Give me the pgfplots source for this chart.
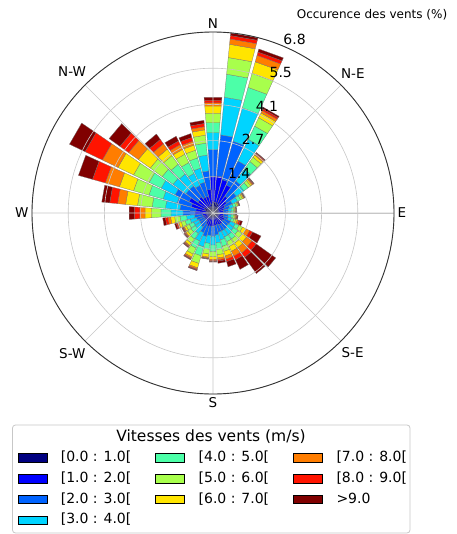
\documentclass[border=0pt]{standalone}
\usepackage{fontspec}
\setmainfont{DejaVu Sans}
\usepackage{pgfplots}
\usepackage{pgfplotstable}
\pgfplotsset{compat=1.18}
\usepgfplotslibrary{polar}

\definecolor{wc1}{rgb}{0,0,0.5}
\definecolor{wc2}{rgb}{0,0,1}
\definecolor{wc3}{rgb}{0,0.39,1}
\definecolor{wc4}{rgb}{0,0.83,1}
\definecolor{wc5}{rgb}{0.30,1,0.66}
\definecolor{wc6}{rgb}{0.66,1,0.30}
\definecolor{wc7}{rgb}{1,0.90,0}
\definecolor{wc8}{rgb}{1,0.49,0}
\definecolor{wc9}{rgb}{1,0.08,0}
\definecolor{wc10}{rgb}{0.5,0,0}

% wind direction (compass degrees) and frequency (%) per speed bin
\pgfplotstableread{
dir b1 b2 b3 b4 b5 b6 b7 b8 b9 b10
0   0.42 0.95 1.02 0.63 0.38 0.35 0.28 0.12 0.10 0.11
10  0.40 1.00 1.55 1.42 0.87 0.63 0.50 0.20 0.13 0.10
20  0.40 0.90 1.50 1.30 0.80 0.55 0.45 0.25 0.13 0.12
30  0.37 0.80 1.00 0.90 0.55 0.35 0.20 0.10 0.07 0.06
40  0.28 0.50 0.70 0.55 0.35 0.20 0.10 0.05 0.04 0.03
50  0.23 0.40 0.45 0.35 0.20 0.12 0.06 0.04 0.03 0.02
60  0.20 0.30 0.30 0.22 0.13 0.08 0.05 0.03 0.02 0.02
70  0.18 0.25 0.22 0.15 0.10 0.06 0.04 0.02 0.02 0.01
80  0.18 0.22 0.18 0.12 0.08 0.05 0.03 0.02 0.01 0.01
90  0.18 0.20 0.18 0.12 0.08 0.05 0.03 0.02 0.02 0.02
100 0.18 0.22 0.17 0.12 0.08 0.05 0.04 0.03 0.03 0.03
110 0.18 0.24 0.17 0.13 0.10 0.07 0.06 0.06 0.06 0.08
120 0.18 0.30 0.25 0.20 0.15 0.15 0.15 0.15 0.12 0.35
130 0.15 0.30 0.25 0.25 0.20 0.20 0.20 0.25 0.20 0.90
140 0.15 0.35 0.25 0.25 0.20 0.20 0.20 0.25 0.20 0.75
150 0.15 0.35 0.25 0.25 0.20 0.20 0.20 0.20 0.15 0.40
160 0.15 0.30 0.30 0.30 0.25 0.20 0.18 0.12 0.10 0.20
170 0.15 0.33 0.35 0.30 0.25 0.20 0.12 0.07 0.05 0.08
180 0.15 0.35 0.38 0.33 0.25 0.18 0.10 0.05 0.03 0.03
190 0.15 0.35 0.35 0.30 0.22 0.18 0.12 0.04 0.02 0.02
200 0.17 0.35 0.40 0.40 0.35 0.30 0.17 0.05 0.03 0.03
210 0.17 0.30 0.35 0.35 0.30 0.25 0.12 0.05 0.03 0.03
220 0.15 0.22 0.28 0.30 0.25 0.20 0.10 0.04 0.03 0.03
230 0.15 0.20 0.25 0.22 0.20 0.15 0.08 0.04 0.03 0.03
240 0.15 0.20 0.24 0.22 0.18 0.13 0.08 0.04 0.03 0.03
250 0.15 0.24 0.25 0.25 0.20 0.15 0.10 0.05 0.05 0.06
260 0.15 0.25 0.30 0.30 0.25 0.20 0.15 0.10 0.10 0.10
270 0.30 0.38 0.45 0.45 0.38 0.35 0.25 0.20 0.20 0.20
280 0.25 0.40 0.60 0.55 0.50 0.55 0.45 0.30 0.30 0.30
290 0.30 0.55 0.55 0.55 0.55 0.60 0.55 0.55 0.50 0.55
300 0.35 0.65 0.58 0.58 0.50 0.65 0.65 0.65 0.72 0.65
310 0.25 0.45 0.55 0.60 0.50 0.55 0.55 0.45 0.40 0.50
320 0.30 0.45 0.50 0.55 0.45 0.40 0.30 0.25 0.20 0.25
330 0.25 0.40 0.50 0.50 0.45 0.35 0.20 0.20 0.15 0.20
340 0.25 0.40 0.55 0.55 0.40 0.30 0.20 0.15 0.15 0.15
350 0.34 0.55 0.70 0.60 0.45 0.30 0.20 0.12 0.12 0.12
}\windtable

\begin{document}
\begin{tikzpicture}[x=1pt,y=1pt]
\path[use as bounding box] (0,0) rectangle (456,-534);
\begin{polaraxis}[
  at={(213pt,-213pt)}, anchor=center,
  scale only axis, width=362pt, height=362pt,
  xmin=0, xmax=360, ymin=0, ymax=6.8,
  clip=false,
  xtick={0,45,...,315},
  xticklabels={E,N-E,N,N-W,W,S-W,S,S-E},
  ytick={1.36,2.72,4.08,5.44,6.8},
  yticklabels={},
  grid=major,
  major grid style={black!22, line width=0.6pt},
  separate axis lines,
  x axis line style={black!80, line width=0.9pt},
  y axis line style={draw=none},
  major tick length=0pt,
  axis on top,
  xticklabel style={font=\fontsize{13.5}{16}\selectfont},
  legend columns=3,
  legend cell align=left,
  legend style={at={(-0.0406,-0.1525)}, anchor=north west, draw=none, fill=none,
    inner sep=0pt, row sep=3.8pt,
    nodes={inner sep=2pt, text height=10pt, text depth=3pt, font=\fontsize{14}{17}\selectfont},
    /tikz/every even column/.append style={column sep=22pt}},
  legend image code/.code={\draw[#1,draw=black,line width=0.6pt] (0pt,-4.2pt) rectangle (29pt,4.2pt); \path[draw=none,fill=none] (0pt,0pt) -- (41pt,0pt);},
]
\pgfplotsforeachungrouped \i in {0,...,35}{%
  \pgfplotstablegetelem{\i}{dir}\of\windtable
  \pgfmathsetmacro\aA{mod(450-\pgfplotsretval-4.4,360)}%
  \pgfplotstablegetelem{\i}{dir}\of\windtable
  \pgfmathsetmacro\aB{mod(450-\pgfplotsretval+4.4,360)}%
  \def\rold{0}%
  \pgfplotsforeachungrouped \k in {1,...,10}{%
    \pgfplotstablegetelem{\i}{b\k}\of\windtable
    \pgfmathsetmacro\rnew{\rold+\pgfplotsretval}%
    \edef\temp{\noexpand\addplot[forget plot, fill=wc\k, draw=black!55, line width=0.25pt] coordinates {(\aA,\rold) (\aB,\rold) (\aB,\rnew) (\aA,\rnew)} -- cycle;}%
    \temp
    \let\rold\rnew
  }%
}
\addlegendimage{fill=wc1}\addlegendentry{[0.0 : 1.0[}
\addlegendimage{fill=wc5}\addlegendentry{[4.0 : 5.0[}
\addlegendimage{fill=wc8}\addlegendentry{[7.0 : 8.0[}
\addlegendimage{fill=wc2}\addlegendentry{[1.0 : 2.0[}
\addlegendimage{fill=wc6}\addlegendentry{[5.0 : 6.0[}
\addlegendimage{fill=wc9}\addlegendentry{[8.0 : 9.0[}
\addlegendimage{fill=wc3}\addlegendentry{[2.0 : 3.0[}
\addlegendimage{fill=wc7}\addlegendentry{[6.0 : 7.0[}
\addlegendimage{fill=wc10}\addlegendentry{>9.0}
\addlegendimage{fill=wc4}\addlegendentry{[3.0 : 4.0[}
\draw[black!22, line width=0.6pt] (axis cs:0,0) -- (axis cs:0,6.8);
\node[anchor=south west, inner sep=1pt, font=\fontsize{14}{17}\selectfont] at (axis cs:67.5,1.36) {1.4};
\node[anchor=south west, inner sep=1pt, font=\fontsize{14}{17}\selectfont] at (axis cs:67.5,2.72) {2.7};
\node[anchor=south west, inner sep=1pt, font=\fontsize{14}{17}\selectfont] at (axis cs:67.5,4.08) {4.1};
\node[anchor=south west, inner sep=1pt, font=\fontsize{14}{17}\selectfont] at (axis cs:67.5,5.44) {5.5};
\node[anchor=south west, inner sep=1pt, font=\fontsize{14}{17}\selectfont] at (axis cs:67.5,6.8) {6.8};
\end{polaraxis}
\node[font=\fontsize{12}{14}\selectfont] at (372,-15) {Occurence des vents (\%)};
\draw[black!22, line width=0.8pt, rounded corners=3pt] (12.5,-425) rectangle (410,-533);
\node[font=\fontsize{15.5}{18}\selectfont] at (211,-437) {Vitesses des vents (m/s)};
\end{tikzpicture}
\end{document}
